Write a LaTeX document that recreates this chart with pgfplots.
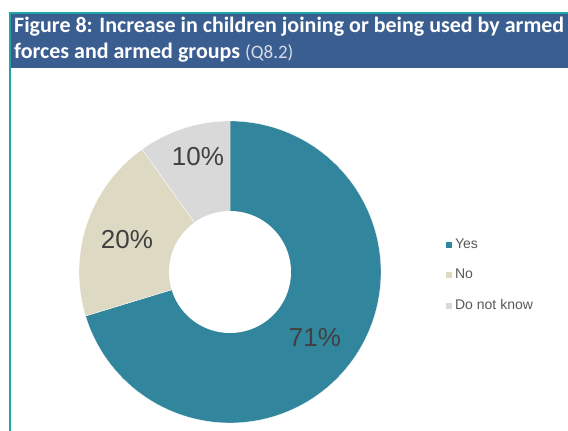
\documentclass[border=0pt]{standalone}
\usepackage{fontspec}
\setmainfont{Liberation Sans}
\newfontfamily\carlito{Carlito}
\usepackage{pgfplots}
\usepackage{pgfplotstable}
\pgfplotsset{compat=1.18}
\definecolor{yescol}{HTML}{31859C}
\definecolor{nocol}{HTML}{DDD9C3}
\definecolor{dkcol}{HTML}{D9D9D9}
\definecolor{barcol}{HTML}{3B5E91}
\definecolor{framecol}{HTML}{1FA5A8}
\definecolor{pcttext}{HTML}{404040}
\definecolor{legtext}{HTML}{595959}
\definecolor{subcol}{HTML}{D5DCE8}

\pgfplotstableread{
label value
Yes 71
No 20
DoNotKnow 10
}\piedata

\begin{document}
\begin{tikzpicture}[x=1pt,y=1pt]
\pgfplotstablegetelem{0}{value}\of\piedata \pgfmathsetmacro{\vY}{\pgfplotsretval}
\pgfplotstablegetelem{1}{value}\of\piedata \pgfmathsetmacro{\vN}{\pgfplotsretval}
\pgfplotstablegetelem{2}{value}\of\piedata \pgfmathsetmacro{\vD}{\pgfplotsretval}
\pgfmathsetmacro{\tot}{\vY+\vN+\vD}
\pgfmathsetmacro{\aD}{90+360*\vD/\tot}
\pgfmathsetmacro{\aN}{\aD+360*\vN/\tot}
\pgfmathsetmacro{\aYs}{\aN-360}
\useasboundingbox (0,0) rectangle (568,431);
\clip (0,0) rectangle (568,431);
\fill[white] (0,0) rectangle (568,431);
\fill[barcol] (10,363) rectangle (580,417);
\draw[framecol, line width=2pt] (9.5,-10) -- (9.5,417.5) -- (600,417.5);
\node[anchor=base west, inner sep=0pt, text=white, font=\carlito\bfseries\fontsize{22}{26}\selectfont] at (14,398) {Figure 8: Increase in children joining or being used by armed};
\node[anchor=base west, inner sep=0pt, text=white, font=\carlito\bfseries\fontsize{22}{26}\selectfont] at (14,372) {forces and armed groups {\mdseries\fontsize{19}{22}\selectfont\color{subcol}(Q8.2)}};
\begin{axis}[
  at={(230pt,159pt)}, anchor=center,
  width=302pt, height=302pt, scale only axis,
  xmin=-1, xmax=1, ymin=-1, ymax=1,
  hide axis, clip=false,
  legend cell align=left,
  legend image code/.code={\fill[#1,draw=none] (0pt,-3pt) rectangle (6pt,3pt);},
  legend style={at={(1.215,0.49)}, anchor=west, draw=none, fill=none,
    font=\fontsize{14}{16}\selectfont, text=legtext,
    inner sep=0pt, row sep=17.5pt, column sep=3pt,
    nodes={inner sep=0pt, text height=10pt, text depth=3pt}},
]
\addplot[fill=yescol, draw=white, line width=0.3pt, domain=\aYs:90, samples=120] ({cos(x)},{sin(x)}) -- (axis cs:0,0) -- cycle;
\addlegendentry{Yes}
\addplot[fill=nocol, draw=white, line width=0.3pt, domain=\aD:\aN, samples=40] ({cos(x)},{sin(x)}) -- (axis cs:0,0) -- cycle;
\addlegendentry{No}
\addplot[fill=dkcol, draw=white, line width=0.3pt, domain=90:\aD, samples=30] ({cos(x)},{sin(x)}) -- (axis cs:0,0) -- cycle;
\addlegendentry{Do not know}
\addplot[fill=white, draw=none, domain=0:360, samples=120, forget plot] ({0.404*cos(x)},{0.404*sin(x)}) -- cycle;
\node[text=pcttext, font=\fontsize{26}{30}\selectfont] at (axis cs:-0.212,0.762) {10\%};
\node[text=pcttext, font=\fontsize{26}{30}\selectfont] at (axis cs:-0.682,0.212) {20\%};
\node[text=pcttext, font=\fontsize{26}{30}\selectfont] at (axis cs:0.563,-0.437) {71\%};
\end{axis}
\end{tikzpicture}
\end{document}
